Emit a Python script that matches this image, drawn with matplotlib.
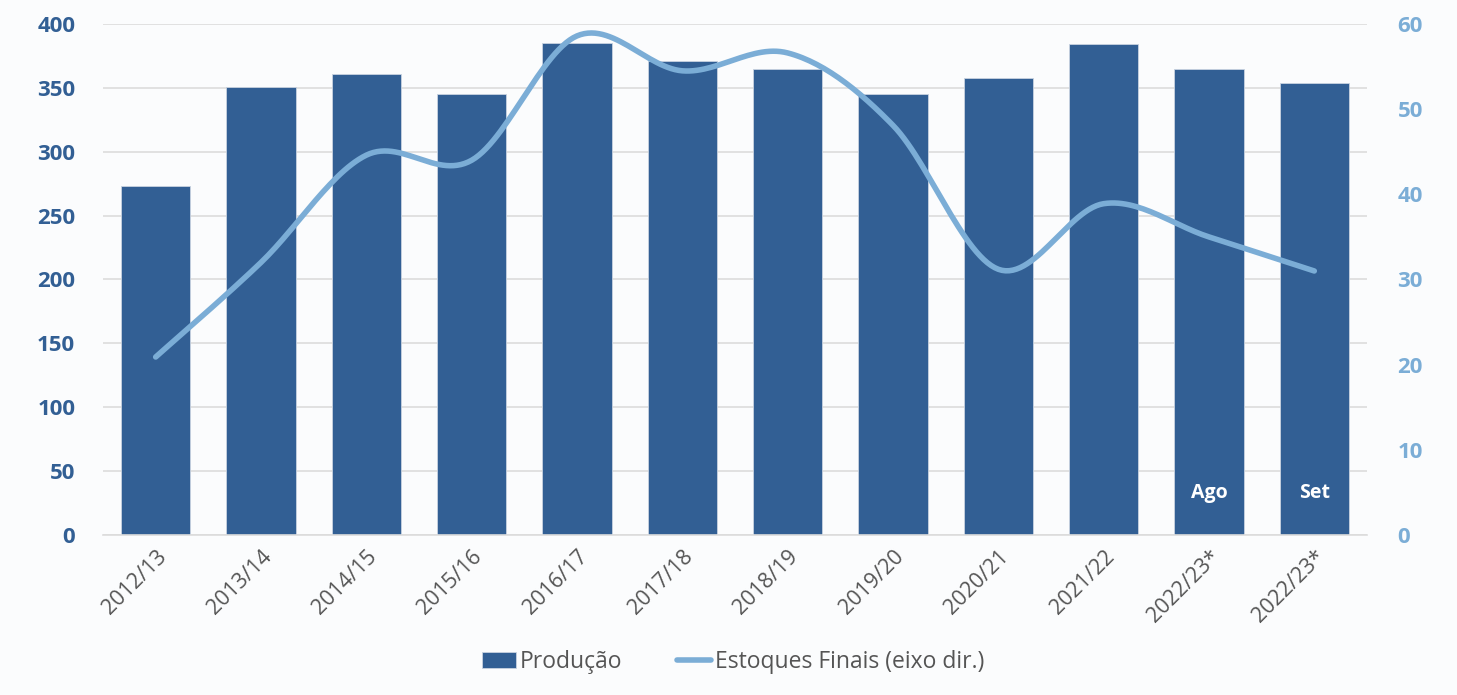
import matplotlib
matplotlib.use("Agg")
import matplotlib.pyplot as plt
import numpy as np
from matplotlib.lines import Line2D
from matplotlib.patches import Patch

# ---------------------------------------------------------------------------
# Data
# ---------------------------------------------------------------------------
safras = ["2012/13", "2013/14", "2014/15", "2015/16", "2016/17", "2017/18",
          "2018/19", "2019/20", "2020/21", "2021/22", "2022/23*", "2022/23*"]
producao = [273, 351, 361, 345, 385, 371, 365, 345, 358, 384, 365, 354]
estoques = [20.9, 32.0, 44.6, 44.0, 58.6, 54.5, 56.6, 48.1, 31.2, 38.9, 35.0, 31.0]
notas = {10: "Ago", 11: "Set"}

BAR = "#325f94"
LINE = "#7badd6"
BG = "#fbfcfd"
GRID = "#dcdcdc"
FONT = ["Open Sans", "DejaVu Sans"]


def bezier_smooth(x, y, n=30):
    """Excel-like smoothed line: cubic Bezier through each data point."""
    x = np.asarray(x, float)
    y = np.asarray(y, float)
    xs, ys = [], []
    for i in range(len(x) - 1):
        p0 = np.array([x[max(i - 1, 0)], y[max(i - 1, 0)]])
        p1 = np.array([x[i], y[i]])
        p2 = np.array([x[i + 1], y[i + 1]])
        p3 = np.array([x[min(i + 2, len(x) - 1)], y[min(i + 2, len(x) - 1)]])
        c1 = p1 + (p2 - p0) / 6
        c2 = p2 - (p3 - p1) / 6
        t = np.linspace(0, 1, n)[:, None]
        pts = ((1 - t) ** 3) * p1 + 3 * ((1 - t) ** 2) * t * c1 \
            + 3 * (1 - t) * t ** 2 * c2 + t ** 3 * p2
        xs.extend(pts[:, 0])
        ys.extend(pts[:, 1])
    return np.array(xs), np.array(ys)


plt.rcParams["font.family"] = FONT

fig = plt.figure(figsize=(14.57, 6.95), dpi=100, facecolor=BG)
ax = fig.add_axes([0.0707, 0.2302, 0.8675, 0.7353], facecolor=BG)
ax2 = ax.twinx()

x = np.arange(len(safras))
ax.bar(x, producao, width=0.66, color=BAR, edgecolor="#c9d3e0",
       linewidth=0.6, zorder=2)
for i, txt in notas.items():
    ax.text(x[i], 33, txt, color="white", fontsize=14, fontweight="bold",
            ha="center", va="center", zorder=3)

sx, sy = bezier_smooth(x, estoques)
ax2.plot(sx, sy, color=LINE, lw=4, solid_capstyle="round", zorder=4)

ax.set_xlim(-0.5, len(safras) - 0.5)
ax.set_ylim(0, 400)
ax.set_yticks(range(0, 401, 50))
ax2.set_ylim(0, 60)
ax2.set_yticks(range(0, 61, 10))

ax.grid(axis="y", color=GRID, lw=1.2, zorder=0)
ax.set_axisbelow(True)
for a in (ax, ax2):
    for s in a.spines.values():
        s.set_visible(False)
ax.spines["bottom"].set_visible(True)
ax.spines["bottom"].set_color(GRID)
ax.spines["bottom"].set_linewidth(1.2)

ax.set_xticks(x)
ax.set_xticklabels(safras, rotation=45, ha="right", rotation_mode="anchor",
                   fontsize=15.5, color="#555555")
ax.tick_params(axis="x", length=0, pad=8)
ax.tick_params(axis="y", length=0, pad=20, labelsize=16, labelcolor=BAR)
ax2.tick_params(axis="y", length=0, pad=22, labelsize=16, labelcolor=LINE)
for lbl in ax.get_yticklabels() + ax2.get_yticklabels():
    lbl.set_fontweight("bold")

handles = [Patch(facecolor=BAR, edgecolor="#c9d3e0", linewidth=0.6),
           Line2D([0], [0], color=LINE, lw=4, solid_capstyle="round")]
fig.legend(handles, ["Produção", "Estoques Finais (eixo dir.)"],
           loc="center", bbox_to_anchor=(0.503, 0.047), ncol=2, frameon=False,
           fontsize=16.5, labelcolor="#555555", handlelength=1.5,
           handletextpad=0.15, columnspacing=2.4)

fig.savefig("out.png", dpi=100, facecolor=BG)
